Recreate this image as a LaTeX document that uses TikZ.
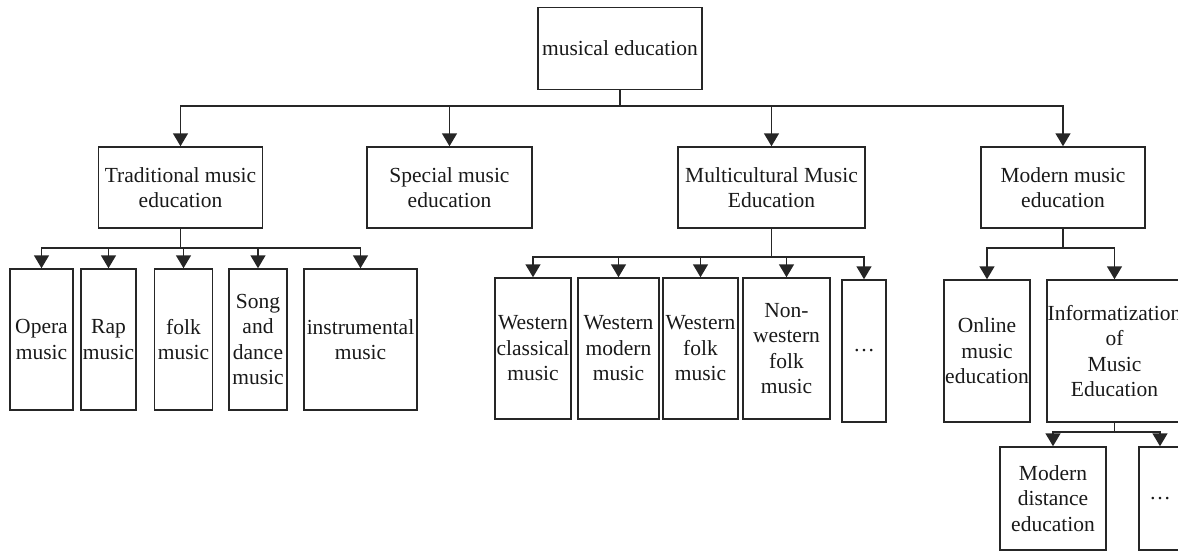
\documentclass[tikz,border=0pt]{standalone}
\usepackage{fontspec}
\setmainfont{Liberation Serif}
\usetikzlibrary{arrows.meta}
\begin{document}
\begin{tikzpicture}[x=1pt,y=-1pt,
  box/.style={draw=black!85,line width=1.5pt,inner sep=0pt,align=center,
    font=\fontsize{21.5}{25.5}\selectfont,text=black!90},
  link/.style={draw=black!85,line width=1.6pt},
  arr/.style={link,-{Triangle[width=15pt,length=13pt]}}]
\useasboundingbox (0,0) rectangle (1178,552);
\clip (0,0) rectangle (1178,552);
% level 0
\node[box,minimum width=164pt,minimum height=82pt] (root) at (620,48.5) {musical education};
% level 1
\node[box,minimum width=164pt,minimum height=81pt] (trad) at (180.5,187.5) {Traditional music\\education};
\node[box,minimum width=165pt,minimum height=81pt] (spec) at (449.5,187.5) {Special music\\education};
\node[box,minimum width=187pt,minimum height=81pt] (multi) at (771.5,187.5) {Multicultural Music\\Education};
\node[box,minimum width=164pt,minimum height=81pt] (mod) at (1063,187.5) {Modern music\\education};
% traditional children
\node[box,minimum width=63pt,minimum height=141pt] (opera) at (41.5,339.5) {Opera\\music};
\node[box,minimum width=55pt,minimum height=141pt] (rap) at (108.5,339.5) {Rap\\music};
\node[box,minimum width=58pt,minimum height=141pt] (folk) at (183.5,339.5) {folk\\music};
\node[box,minimum width=58pt,minimum height=141pt] (song) at (258,339.5) {Song\\and\\dance\\music};
\node[box,minimum width=113pt,minimum height=141pt] (instr) at (360.5,339.5) {instrumental\\music};
% multicultural children
\node[box,minimum width=76pt,minimum height=141pt] (wcl) at (533,348.5) {Western\\classical\\music};
\node[box,minimum width=81pt,minimum height=141pt] (wmo) at (618.5,348.5) {Western\\modern\\music};
\node[box,minimum width=75pt,minimum height=141pt] (wfo) at (700.5,348.5) {Western\\folk\\music};
\node[box,minimum width=87pt,minimum height=141pt] (nwf) at (786.5,348.5) {Non-\\western\\folk\\music};
\node[box,minimum width=44pt,minimum height=142pt] (mdots) at (864,351) {\dots};
% modern children
\node[box,minimum width=86pt,minimum height=142pt] (online) at (987,351) {Online\\music\\education};
\node[box,minimum width=135pt,minimum height=142pt] (info) at (1114.5,351) {Informatization\\of\\Music\\Education};
% informatization children
\node[box,minimum width=106pt,minimum height=103pt] (dist) at (1053,498.5) {Modern\\distance\\education};
\node[box,minimum width=42pt,minimum height=103pt] (idots) at (1160,498.5) {\dots};
% bus coordinates
\coordinate (b0) at (620,106);
\coordinate (b1) at (180.5,248);
\coordinate (b2) at (771.5,257);
\coordinate (b3) at (1063,248);
\coordinate (b4) at (1114.5,432);
% connectors level 0 -> 1
\draw[link] (root.south) -- (root.south |- b0);
\foreach \n in {trad,spec,multi,mod}{\draw[arr] (root.south |- b0) -| (\n.north);}
% traditional
\draw[link] (trad.south) -- (b1);
\foreach \n in {opera,rap,folk,song,instr}{\draw[arr] (b1) -| (\n.north);}
% multicultural
\draw[link] (multi.south) -- (b2);
\foreach \n in {wcl,wmo,wfo,nwf,mdots}{\draw[arr] (b2) -| (\n.north);}
% modern
\draw[link] (mod.south) -- (b3);
\foreach \n in {online,info}{\draw[arr] (b3) -| (\n.north);}
% informatization
\draw[link] (info.south) -- (b4);
\foreach \n in {dist,idots}{\draw[arr] (b4) -| (\n.north);}
\end{tikzpicture}
\end{document}
